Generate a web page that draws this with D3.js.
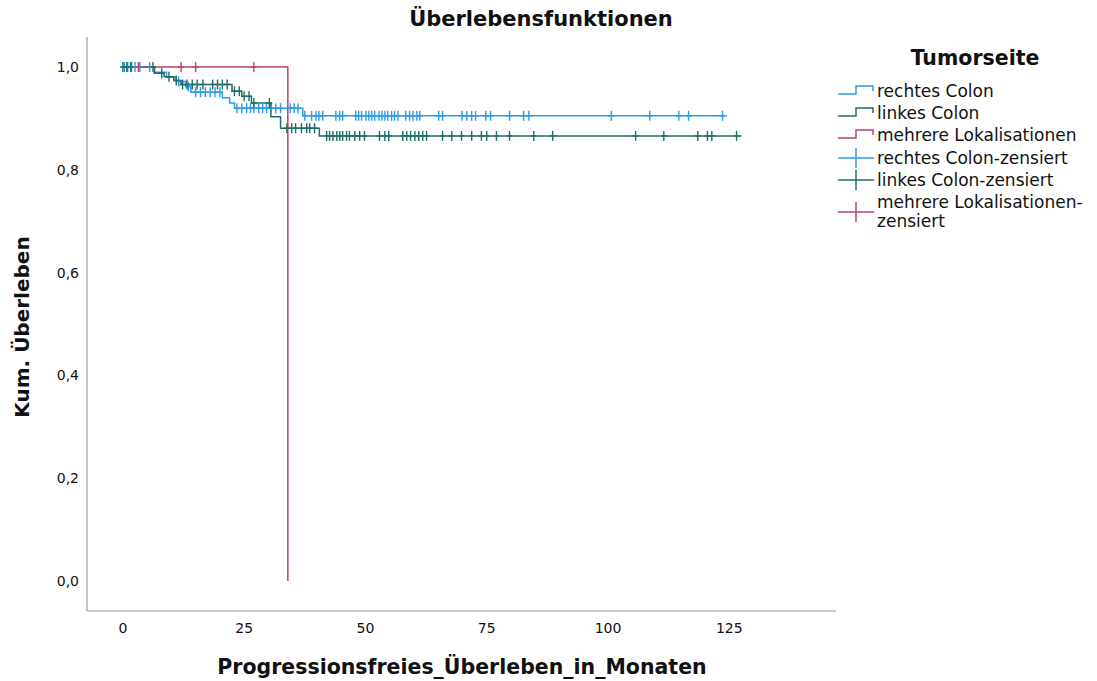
<!DOCTYPE html>
<html>
<head>
<meta charset="utf-8">
<script src="https://cdn.jsdelivr.net/npm/d3@7"></script>
<style>
  body { margin: 0; background: #fff; }
  svg text { font-family: "DejaVu Sans", sans-serif; fill: #111; }
</style>
</head>
<body>
<div id="chart"></div>
<script>
// Step functions: [time, survival after the event]
const rightSteps = [[0, 1], [6.5, 0.99], [9, 0.98], [11, 0.972], [13, 0.962], [14, 0.951], [20.5, 0.94], [22, 0.93], [23, 0.92], [37.1, 0.905]];
const rightEnd = 124.5;
const leftSteps = [[0, 1], [6.5, 0.988], [8.5, 0.981], [10.5, 0.974], [12, 0.966], [22.5, 0.953], [24.5, 0.943], [26.5, 0.93], [30.5, 0.903], [32.5, 0.881], [40.5, 0.866]];
const leftEnd = 127.5;
const multiSteps = [[0, 1], [34, 0]];
const multiEnd = 34;

// censored observations (months)
const rightCensored = [0.3, 1, 1.8, 2.5, 3.5, 5.5, 11.5, 13.5, 15, 16, 17, 18, 19, 20, 23.5, 24.5, 25.5, 26.3, 27, 28, 28.8, 29.6, 30.6, 31.5, 32.5, 34.5, 35.3, 36.1,
  37.5, 38.9, 39.8, 40.4, 41.2, 43.9, 44.7, 45.3, 48.0, 48.6, 49.2, 50.1, 50.7, 51.3, 51.9, 52.8, 53.4, 54.0, 54.6, 55.4, 56.0, 56.7, 58.3, 59.1, 59.8, 60.6, 61.2,
  65.1, 65.9, 69.9, 70.9, 71.9, 72.7, 74.8, 75.8, 79.7, 82.6, 83.7, 100.7, 108.6, 114.6, 116.6, 123.6];
const leftCensored = [0, 0.8, 1.6, 6.2, 8, 9.5, 11, 12.3, 13.2, 14.3, 15.3, 16.5, 18.5, 19.5, 20.5, 21.5, 23, 24, 25, 26, 27, 30.2,
  33.8, 34.8, 35.6, 36.8, 37.9, 38.5, 39.5, 42.0, 42.6, 43.3, 44.1, 44.7, 45.3, 46.1, 46.7, 47.8, 48.8, 49.8, 52.9, 54.0, 54.8, 57.7, 58.5, 59.3,
  60.2, 61.0, 61.8, 62.6, 65.9, 67.8, 69.8, 71.9, 73.9, 75.0, 77.0, 79.7, 84.7, 88.6, 105.7, 111.5, 118.5, 120.5, 121.4, 126.5];
const multiCensored = [3.2, 12, 15, 27];

const xTicks = [0, 25, 50, 75, 100, 125];
const yTicks = [0, 0.2, 0.4, 0.6, 0.8, 1.0];

const groups = [
  { name: "rechtes Colon", steps: rightSteps, end: rightEnd, censored: rightCensored, color: "#2b9be8" },
  { name: "linkes Colon", steps: leftSteps, end: leftEnd, censored: leftCensored, color: "#1f6e66" },
  { name: "mehrere Lokalisationen", steps: multiSteps, end: multiEnd, censored: multiCensored, color: "#bd3f74" }
];

const width = 1097, height = 681;
const svg = d3.select("#chart").append("svg")
  .attr("width", width)
  .attr("height", height);

const x = d3.scaleLinear().domain([-7.4, 147]).range([87, 836]);
const y = d3.scaleLinear().domain([-0.0584, 1.0584]).range([611, 37]);

// axes lines
svg.append("line").attr("x1", 87).attr("x2", 87).attr("y1", 37).attr("y2", 611)
  .attr("stroke", "#9a9a9a").attr("stroke-width", 1.2);
svg.append("line").attr("x1", 87).attr("x2", 836).attr("y1", 611).attr("y2", 611)
  .attr("stroke", "#9a9a9a").attr("stroke-width", 1.2);

const fmt = d => d3.format(".1f")(d).replace(".", ",");

svg.append("g").selectAll("text")
  .data(yTicks)
  .join("text")
  .attr("x", 79)
  .attr("y", d => y(d))
  .attr("dy", "0.35em")
  .attr("text-anchor", "end")
  .style("font-size", "14px")
  .text(fmt);

svg.append("g").selectAll("text")
  .data(xTicks)
  .join("text")
  .attr("x", d => x(d))
  .attr("y", 628)
  .attr("dy", "0.35em")
  .attr("text-anchor", "middle")
  .style("font-size", "14px")
  .text(d => d);

function survivalAt(steps, t) {
  let s = steps[0][1];
  for (const [time, val] of steps) if (time <= t) s = val;
  return s;
}

function stepPath(steps, end) {
  const pts = [];
  steps.forEach(([t, s], i) => {
    if (i > 0) pts.push([t, steps[i - 1][1]]);
    pts.push([t, s]);
  });
  pts.push([end, steps[steps.length - 1][1]]);
  return d3.line().x(d => x(d[0])).y(d => y(d[1]))(pts);
}

const plot = svg.append("g");
groups.forEach(g => {
  plot.append("path")
    .attr("d", stepPath(g.steps, g.end))
    .attr("fill", "none")
    .attr("stroke", g.color)
    .attr("stroke-width", 1.5);
});

groups.forEach(g => {
  const marks = plot.append("g").attr("stroke", g.color).attr("stroke-width", 1.4);
  marks.selectAll("line.v")
    .data(g.censored)
    .join("line")
    .attr("class", "v")
    .attr("x1", d => x(d)).attr("x2", d => x(d))
    .attr("y1", d => y(survivalAt(g.steps, d)) - 5)
    .attr("y2", d => y(survivalAt(g.steps, d)) + 5);
  marks.selectAll("line.h")
    .data(g.censored)
    .join("line")
    .attr("class", "h")
    .attr("x1", d => x(d) - 3).attr("x2", d => x(d) + 3)
    .attr("y1", d => y(survivalAt(g.steps, d)))
    .attr("y2", d => y(survivalAt(g.steps, d)));
});

// titles
svg.append("text")
  .attr("x", 541).attr("y", 19).attr("dy", "0.35em")
  .attr("text-anchor", "middle")
  .style("font-size", "21px").style("font-weight", "bold")
  .text("Überlebensfunktionen");

svg.append("text")
  .attr("x", 462).attr("y", 667).attr("dy", "0.35em")
  .attr("text-anchor", "middle")
  .style("font-size", "20.5px").style("font-weight", "bold")
  .text("Progressionsfreies_Überleben_in_Monaten");

svg.append("text")
  .attr("transform", "translate(22,327) rotate(-90)")
  .attr("dy", "0.35em")
  .attr("text-anchor", "middle")
  .style("font-size", "20px").style("font-weight", "bold")
  .text("Kum. Überleben");

// legend
const legend = svg.append("g");
legend.append("text")
  .attr("x", 975).attr("y", 58).attr("dy", "0.35em")
  .attr("text-anchor", "middle")
  .style("font-size", "20.5px").style("font-weight", "bold")
  .text("Tumorseite");

const rowY = [91, 113, 135, 158, 180, 212];
groups.forEach((g, i) => {
  const cy = rowY[i];
  legend.append("path")
    .attr("d", `M838,${cy + 3}H856V${cy - 5}H873V${cy}`)
    .attr("fill", "none").attr("stroke", g.color).attr("stroke-width", 1.5);
  legend.append("text")
    .attr("x", 877).attr("y", cy).attr("dy", "0.35em")
    .style("font-size", "17px")
    .text(g.name);
});
groups.forEach((g, i) => {
  const cy = rowY[i + 3];
  legend.append("line").attr("x1", 838).attr("x2", 874).attr("y1", cy).attr("y2", cy)
    .attr("stroke", g.color).attr("stroke-width", 1.5);
  legend.append("line").attr("x1", 856).attr("x2", 856).attr("y1", cy - 10).attr("y2", cy + 10)
    .attr("stroke", g.color).attr("stroke-width", 1.5);
  const t = legend.append("text")
    .attr("x", 877).attr("y", i === 2 ? cy - 9.5 : cy).attr("dy", "0.35em")
    .style("font-size", "17px");
  if (i === 2) {
    t.append("tspan").attr("x", 877).text(g.name + "-");
    t.append("tspan").attr("x", 877).attr("dy", "1.1em").text("zensiert");
  } else {
    t.text(g.name + "-zensiert");
  }
});
</script>
</body>
</html>
